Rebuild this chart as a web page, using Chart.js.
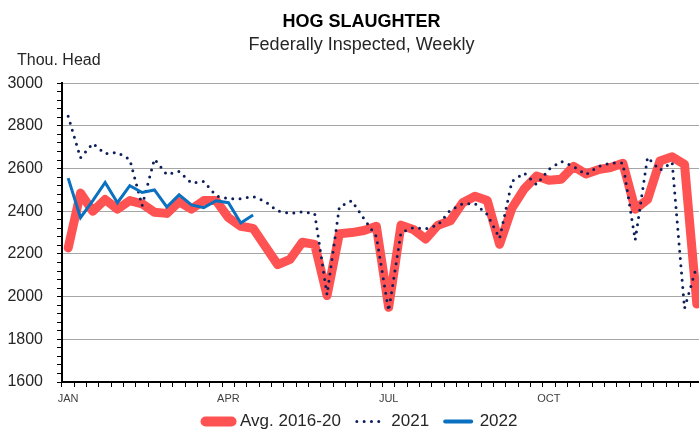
<!DOCTYPE html>
<html>
<head>
<meta charset="utf-8">
<script src="https://cdn.jsdelivr.net/npm/chart.js@4/dist/chart.umd.min.js"></script>
<style>
  html, body { margin: 0; padding: 0; background: #fff; overflow: hidden; }
  #wrap { position: relative; width: 723px; height: 440px; }
</style>
</head>
<body>
<div id="wrap"><canvas id="hogChart"></canvas></div>
<script>
// month labels on the week axis (52 weeks)
const monthTicks = { 0: 'JAN', 13: 'APR', 26: 'JUL', 39: 'OCT' };
const weeks = Array.from({ length: 52 }, (_, i) => monthTicks[i] || '');

// Thou. Head
const avg1620 = [2228, 2485, 2400, 2455, 2410, 2450, 2435, 2395, 2390, 2445,
                 2410, 2450, 2450, 2370, 2330, 2320, 2235, 2150, 2175, 2255,
                 2245, 2005, 2295, 2300, 2310, 2330, 1950, 2335, 2315, 2270,
                 2335, 2355, 2440, 2470, 2450, 2245, 2415, 2505, 2565, 2545,
                 2550, 2610, 2575, 2595, 2605, 2625, 2410, 2455, 2635, 2655,
                 2620, 1965];
const y2021 = [2845, 2650, 2718, 2670, 2676, 2642, 2426, 2645, 2572, 2587,
               2532, 2540, 2472, 2459, 2459, 2469, 2445, 2401, 2390, 2397,
               2389, 2009, 2420, 2450, 2365, 2282, 1933, 2300, 2323, 2318,
               2335, 2405, 2435, 2436, 2385, 2273, 2540, 2579, 2524, 2597,
               2634, 2610, 2572, 2610, 2626, 2626, 2265, 2653, 2592, 2629,
               1945, 2145];
const y2022 = [2555, 2370, 2450, 2535, 2440, 2520, 2488, 2500, 2420, 2477,
               2430, 2417, 2449, 2440, 2345, 2382];

const yMin = 1600, yMax = 3000, yMajor = 200, yMinor = 40;

const FONT = "'Liberation Sans', Arial, sans-serif";

// y axis caption drawn over the chart
const unitLabel = {
    id: 'unitLabel',
    afterDraw(chart) {
        const ctx = chart.ctx;
        ctx.save();
        ctx.font = '16px ' + FONT;
        ctx.fillStyle = '#262626';
        ctx.textBaseline = 'alphabetic';
        ctx.fillText('Thou. Head', 17, 65);
        ctx.restore();
    }
};

// let tick labels spill outside their (shrunk) scale boxes
const noLabelClip = scale => { scale._computeLabelArea = () => undefined; };

new Chart(document.getElementById('hogChart'), {
    type: 'line',
    data: {
        labels: weeks,
        datasets: [
            {
                label: 'Avg. 2016-20',
                data: avg1620,
                borderColor: '#ff5252',
                backgroundColor: '#ff5252',
                borderWidth: 9,
                borderJoinStyle: 'round',
                borderCapStyle: 'round',
                legendWidth: 10,
                order: 3
            },
            {
                label: '2021',
                data: y2021,
                borderColor: '#0c1f5a',
                backgroundColor: '#0c1f5a',
                borderWidth: 3,
                borderDash: [0, 7.3],
                borderCapStyle: 'round',
                legendWidth: 3,
                order: 2
            },
            {
                label: '2022',
                data: y2022,
                borderColor: '#0a70c0',
                backgroundColor: '#0a70c0',
                borderWidth: 3,
                borderJoinStyle: 'miter',
                legendWidth: 4,
                order: 1
            }
        ]
    },
    options: {
        responsive: true,
        maintainAspectRatio: false,
        animation: false,
        elements: {
            point: { radius: 0, hoverRadius: 0 },
            line: { tension: 0 }
        },
        // right padding sits past the visible window
        layout: { padding: { left: 20, right: 20, top: 0, bottom: 0 } },
        plugins: {
            tooltip: { enabled: false },
            title: {
                display: true,
                text: 'HOG SLAUGHTER',
                color: '#000',
                font: { family: FONT, size: 18, weight: 'bold' },
                padding: { top: 11, bottom: 0 }
            },
            subtitle: {
                display: true,
                text: 'Federally Inspected, Weekly',
                color: '#262626',
                font: { family: FONT, size: 18 },
                padding: { top: 2, bottom: 27 }
            },
            legend: {
                position: 'bottom',
                labels: {
                    usePointStyle: true,
                    pointStyleWidth: 26,
                    padding: 16,
                    color: '#262626',
                    font: { family: FONT, size: 17 },
                    sort: (a, b) => a.datasetIndex - b.datasetIndex,
                    generateLabels(chart) {
                        const items = Chart.defaults.plugins.legend.labels.generateLabels(chart);
                        items.forEach(it => {
                            const ds = chart.data.datasets[it.datasetIndex];
                            it.pointStyle = 'line';
                            it.lineWidth = ds.legendWidth;
                            it.lineCap = 'round';
                            it.lineDash = ds.borderDash || [];
                            it.strokeStyle = ds.borderColor;
                        });
                        return items;
                    }
                }
            }
        },
        scales: {
            x: {
                type: 'category',
                offset: true,
                afterFit(scale) { scale.height = 15; noLabelClip(scale); },
                grid: {
                    offset: true,
                    drawOnChartArea: false,
                    tickLength: 5,
                    tickColor: '#000',
                    tickWidth: 1
                },
                border: { color: '#000', width: 2 },
                ticks: {
                    autoSkip: false,
                    maxRotation: 0,
                    padding: 5,
                    color: '#404040',
                    font: { family: FONT, size: 11 }
                }
            },
            y: {
                min: yMin,
                max: yMax,
                afterFit(scale) { scale.width = 42; noLabelClip(scale); },
                grid: {
                    color: ctx => (Math.round(ctx.tick.value) % yMajor === 0 ? '#a6a6a6' : 'rgba(0,0,0,0)'),
                    tickColor: '#000',
                    tickLength: 5,
                    lineWidth: 1
                },
                border: { color: '#000', width: 2 },
                ticks: {
                    stepSize: yMinor,
                    autoSkip: false,
                    padding: 14,
                    color: '#262626',
                    font: { family: FONT, size: 16 },
                    callback: v => (Math.round(v) % yMajor === 0 ? Math.round(v) : '')
                }
            }
        }
    },
    plugins: [unitLabel]
});
</script>
</body>
</html>
